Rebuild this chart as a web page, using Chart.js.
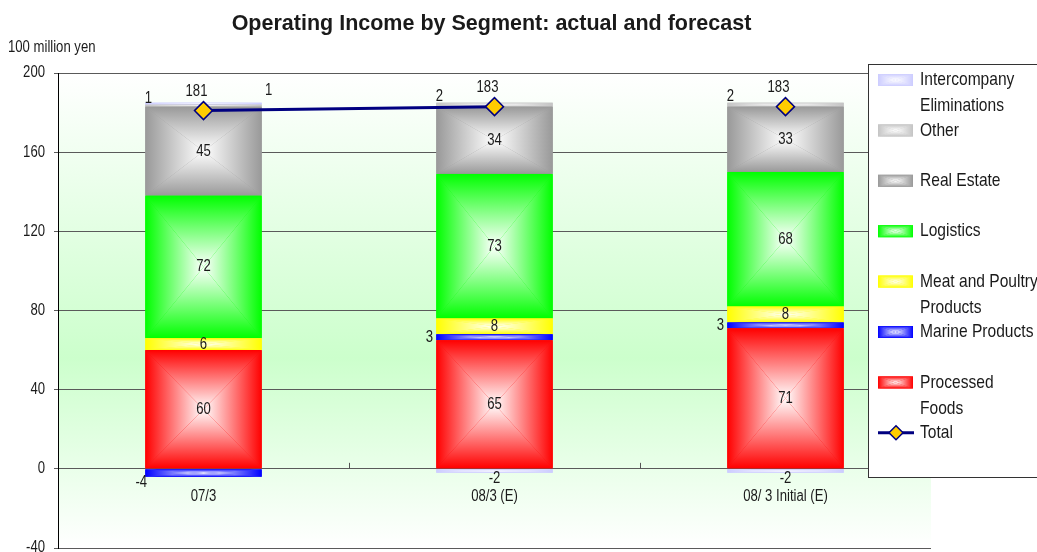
<!DOCTYPE html>
<html>
<head>
<meta charset="utf-8">
<title>Operating Income by Segment</title>
<script src="https://cdn.jsdelivr.net/npm/chart.js@4"></script>
<style>
    body { margin: 0; background: #fff; }
    #wrap { position: relative; width: 1037px; height: 552px; }
</style>
</head>
<body>
<div id="wrap"><canvas id="segmentChart"></canvas></div>
<script>
const categories = ['07/3', '08/3 (E)', '08/ 3 Initial (E)'];

// segment results, 100 million yen (stack order bottom -> top)
const processedFoods = [60, 65, 71];
const marineProducts = [-4, 3, 3];
const meatPoultry = [6, 8, 8];
const logistics = [72, 73, 68];
const realEstate = [45, 34, 33];
const other = [1, 2, 2];
const eliminations = [1, -2, -2];
const totals = [181, 183, 183];

const SANS = '"Liberation Sans", Arial, sans-serif';
const NAVY = '#000080';
const INK = '#1a1a1a';

// no narrow face installed, so squeeze Liberation Sans horizontally
function narrowText(ctx, text, x, y, size, align) {
    ctx.save();
    ctx.translate(x, y);
    ctx.scale(0.82, 1);
    ctx.font = size + 'px ' + SANS;
    ctx.textAlign = align || 'center';
    ctx.textBaseline = 'middle';
    ctx.fillStyle = INK;
    ctx.fillText(text, 0, 0);
    ctx.restore();
}

// rectangle filled with colour at the edges fading to white in the middle
function boxFill(ctx, x0, y0, x1, y1, color) {
    const cx = (x0 + x1) / 2, cy = (y0 + y1) / 2;
    ctx.fillStyle = color;
    ctx.fillRect(x0, y0, x1 - x0, y1 - y0);
    const tri = (pts, gx0, gy0) => {
        const g = ctx.createLinearGradient(gx0, gy0, cx, cy);
        g.addColorStop(0, color);
        g.addColorStop(1, '#ffffff');
        ctx.beginPath();
        ctx.moveTo(pts[0][0], pts[0][1]);
        ctx.lineTo(pts[1][0], pts[1][1]);
        ctx.lineTo(cx, cy);
        ctx.closePath();
        ctx.fillStyle = g;
        ctx.fill();
    };
    tri([[x0, y0], [x1, y0]], cx, y0);
    tri([[x0, y1], [x1, y1]], cx, y1);
    tri([[x0, y0], [x0, y1]], x0, cy);
    tri([[x1, y0], [x1, y1]], x1, cy);
}

function barBox(el) {
    const half = el.width / 2;
    return {
        left: el.x - half, right: el.x + half,
        top: Math.min(el.y, el.base), bottom: Math.max(el.y, el.base)
    };
}

// where each segment's value is written
const labelPlacement = {
    'Marine Products': (b, v) => v < 0
        ? { x: b.left - 4, y: b.bottom + 6 }
        : { x: b.left - 7, y: (b.top + b.bottom) / 2 },
    'Other': (b) => ({ x: b.left + 3, y: b.top - 6 }),
    'Intercompany Eliminations': (b, v) => v < 0
        ? { x: (b.left + b.right) / 2, y: b.bottom + 6 }
        : { x: b.right + 7, y: b.top - 12 }
};

const segmentPlugin = {
    id: 'segmentPlugin',
    beforeDraw(chart) {
        const { ctx, chartArea: a } = chart;
        const g = ctx.createLinearGradient(0, a.top, 0, a.bottom);
        g.addColorStop(0, '#ffffff');
        g.addColorStop(0.6, '#ccffcc');
        g.addColorStop(1, '#ffffff');
        ctx.save();
        ctx.fillStyle = g;
        ctx.fillRect(a.left, a.top, a.right - a.left, a.bottom - a.top);
        ctx.restore();
    },
    beforeDatasetDraw(chart, args) {
        const meta = args.meta;
        if (meta.type !== 'bar') return;
        const ctx = chart.ctx;
        const color = chart.data.datasets[args.index].backgroundColor;
        ctx.save();
        meta.data.forEach(el => {
            const b = barBox(el);
            if (b.bottom - b.top < 0.5) return;
            boxFill(ctx, b.left, b.top, b.right, b.bottom, color);
        });
        ctx.restore();
        return false;
    },
    afterDatasetsDraw(chart) {
        const { ctx, scales } = chart;
        const y0 = scales.y.getPixelForValue(0);
        ctx.save();

        // small ticks between categories on the zero line
        ctx.strokeStyle = '#555';
        ctx.lineWidth = 1;
        for (let i = 0; i < categories.length - 1; i++) {
            const xm = Math.round((scales.x.getPixelForTick(i) + scales.x.getPixelForTick(i + 1)) / 2) + 0.5;
            ctx.beginPath();
            ctx.moveTo(xm, y0 - 6);
            ctx.lineTo(xm, y0);
            ctx.stroke();
        }
        ctx.restore();

        // axis labels
        scales.y.ticks.forEach(t => {
            narrowText(ctx, String(t.value), 45, scales.y.getPixelForValue(t.value), 16, 'right');
        });
        categories.forEach((c, i) => {
            narrowText(ctx, c, scales.x.getPixelForValue(i), y0 + 28, 16, 'center');
        });

        // value labels
        chart.data.datasets.forEach((ds, di) => {
            const meta = chart.getDatasetMeta(di);
            meta.data.forEach((el, i) => {
                const v = ds.data[i];
                if (v == null) return;
                let p;
                if (meta.type === 'line') {
                    p = { x: el.x - 7, y: el.y - 19 };
                } else {
                    const b = barBox(el);
                    const place = labelPlacement[ds.label];
                    p = place ? place(b, v) : { x: el.x, y: (b.top + b.bottom) / 2 };
                }
                narrowText(ctx, String(v), p.x, p.y, 16, 'center');
            });
        });
    },
    afterDraw(chart) {
        const { ctx, chartArea: a } = chart;
        ctx.save();

        // title and unit
        ctx.fillStyle = INK;
        ctx.textBaseline = 'middle';
        ctx.textAlign = 'center';
        ctx.font = 'bold 21.5px ' + SANS;
        ctx.fillText('Operating Income by Segment: actual and forecast', (a.left + a.right) / 2 - 3, 24);
        narrowText(ctx, '100 million yen', 8, 48, 16, 'left');

        // legend box
        const lx = 868, ly = 64;
        ctx.fillStyle = '#ffffff';
        ctx.fillRect(lx, ly, 180, 413);
        ctx.strokeStyle = '#333';
        ctx.lineWidth = 1;
        ctx.strokeRect(lx + 0.5, ly + 0.5, 180, 413);

        const entries = chart.data.datasets.filter(d => d.type !== 'line').slice().reverse();
        const lineDs = chart.data.datasets.find(d => d.type === 'line');
        entries.concat([lineDs]).forEach((ds, i) => {
            const cy = ly + 16 + i * 50.4;
            if (ds.type === 'line') {
                ctx.strokeStyle = NAVY;
                ctx.lineWidth = 3;
                ctx.beginPath();
                ctx.moveTo(878, cy);
                ctx.lineTo(914, cy);
                ctx.stroke();
                ctx.beginPath();
                ctx.moveTo(896, cy - 7);
                ctx.lineTo(903, cy);
                ctx.lineTo(896, cy + 7);
                ctx.lineTo(889, cy);
                ctx.closePath();
                ctx.fillStyle = '#ffcc00';
                ctx.fill();
                ctx.lineWidth = 1.5;
                ctx.stroke();
            } else {
                boxFill(ctx, 878, cy - 6, 913, cy + 6, ds.backgroundColor);
            }
            ds.legendLines.forEach((line, k) => narrowText(ctx, line, 920, cy + k * 26, 19, 'left'));
        });
        ctx.restore();
    }
};

const barSet = (label, legendLines, data, color) => ({
    type: 'bar', label, legendLines, data,
    backgroundColor: color,
    order: 1
});

new Chart(document.getElementById('segmentChart'), {
    data: {
        labels: categories,
        datasets: [
            {
                type: 'line',
                label: 'Total',
                legendLines: ['Total'],
                data: totals,
                stack: 'total',
                order: 0,
                borderColor: NAVY,
                borderWidth: 3,
                // the initial forecast is shown as a point on its own
                segment: { borderColor: ctx => ctx.p1DataIndex === 2 ? 'rgba(0,0,0,0)' : NAVY },
                pointStyle: 'rectRot',
                pointRadius: 9,
                pointBackgroundColor: '#ffcc00',
                pointBorderColor: NAVY,
                pointBorderWidth: 1.5
            },
            barSet('Processed Foods', ['Processed', 'Foods'], processedFoods, '#ff0000'),
            barSet('Marine Products', ['Marine Products'], marineProducts, '#0000ff'),
            barSet('Meat and Poultry Products', ['Meat and Poultry', 'Products'], meatPoultry, '#ffff00'),
            barSet('Logistics', ['Logistics'], logistics, '#00ff00'),
            barSet('Real Estate', ['Real Estate'], realEstate, '#999999'),
            barSet('Other', ['Other'], other, '#c4c4c4'),
            barSet('Intercompany Eliminations', ['Intercompany', 'Eliminations'], eliminations, '#ccccff')
        ]
    },
    options: {
        responsive: true,
        maintainAspectRatio: false,
        animation: false,
        events: [],
        layout: { autoPadding: false, padding: { top: 73, right: 106, bottom: 4, left: 0 } },
        datasets: { bar: { categoryPercentage: 1, barPercentage: 0.4 } },
        plugins: { legend: { display: false }, tooltip: { enabled: false } },
        scales: {
            x: {
                stacked: true,
                position: { y: 0 },
                grid: { display: false },
                border: { display: false },
                ticks: { display: false }
            },
            y: {
                stacked: true,
                min: -40,
                max: 200,
                afterFit: scale => { scale.width = 58; },
                ticks: { stepSize: 40, display: false },
                grid: { color: '#5a5a5a', lineWidth: 1, tickLength: 4 },
                border: { color: '#000', width: 1 }
            }
        }
    },
    plugins: [segmentPlugin]
});
</script>
</body>
</html>
